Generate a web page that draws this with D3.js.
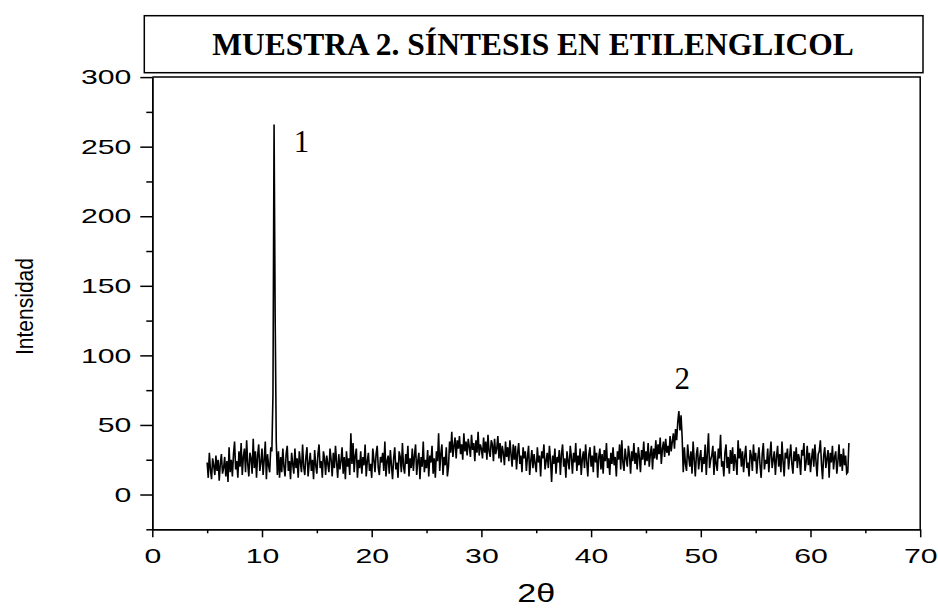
<!DOCTYPE html>
<html>
<head>
<meta charset="utf-8">
<script src="https://cdn.jsdelivr.net/npm/d3@7"></script>
<style>
  body { margin: 0; background: #fff; }
  svg { display: block; }
</style>
</head>
<body>
<div id="chart"></div>
<script>
// scan: 2theta from 5.0 to 63.5 in 0.1 steps, intensity
var scanStart = 5.0,
    scanStep = 0.1;

var intensity = [
  23,12,30,18,11,26,21,14,28,17,   // 5
  25,10,22,29,15,19,27,13,24,9,
  34,16,25,13,29,38,18,24,12,31,
  20,37,14,27,33,16,39,22,13,30,
  26,15,40,19,31,12,28,36,17,23,
  33,14,25,38,11,29,21,16,34,31,   // 10
  72,266,128,38,14,31,12,27,16,33,
  20,13,29,35,17,24,11,30,22,15,
  33,19,26,12,31,23,16,36,20,14,
  27,34,13,22,30,17,25,11,32,21,
  15,29,36,19,24,12,31,26,14,28,   // 15
  22,16,33,25,13,30,19,35,23,12,
  29,18,24,34,15,27,11,31,20,26,
  14,44,22,37,16,28,33,12,25,19,
  31,15,27,21,36,13,24,30,17,22,
  12,33,25,16,29,35,19,14,27,23,   // 20
  30,17,38,13,24,28,15,32,21,11,
  26,34,18,23,12,31,27,16,37,20,
  15,29,22,35,13,26,19,33,17,28,
  36,14,24,30,11,27,20,38,16,25,
  19,32,13,28,23,35,15,26,12,31,   // 25
  24,44,17,29,36,14,27,21,34,13,
  20,38,30,45,27,35,41,26,39,33,
  42,29,36,25,44,31,38,28,40,34,
  27,43,32,37,24,39,30,45,28,36,
  33,26,41,30,38,25,43,31,27,39,   // 30
  36,24,40,29,33,42,26,37,23,35,
  30,21,38,27,34,24,39,29,20,36,
  25,35,18,30,37,22,28,16,34,26,
  31,17,27,35,14,24,32,19,29,22,
  16,34,23,28,13,31,26,36,18,24,   // 35
  30,19,35,25,9,28,22,33,15,27,
  23,32,14,29,36,20,26,12,31,24,
  18,35,27,15,30,23,37,17,28,21,
  33,14,26,31,19,36,24,13,29,34,
  20,28,16,35,23,30,12,27,33,18,   // 40
  29,15,32,24,37,19,26,14,30,22,
  34,21,27,13,31,25,36,18,39,23,
  17,33,26,20,35,28,15,31,24,37,
  22,30,18,34,27,16,32,25,38,21,
  31,24,37,20,29,35,18,33,26,39,   // 45
  25,36,29,41,22,33,38,27,40,30,
  35,28,42,31,38,44,33,47,39,52,
  60,46,57,41,16,34,22,17,36,27,
  20,31,15,38,25,13,29,34,18,26,
  32,16,27,22,36,14,30,44,19,25,   // 50
  28,35,14,31,22,17,33,26,43,20,
  24,13,30,36,19,27,15,32,22,34,
  17,29,24,14,39,26,33,20,31,16,
  27,35,19,23,13,32,28,17,36,24,
  30,15,26,34,21,12,29,37,18,25,   // 55
  22,33,16,28,38,19,25,31,14,27,
  35,20,29,16,38,24,13,30,26,33,
  18,27,36,22,15,31,24,34,19,29,
  25,14,32,28,37,17,23,35,21,30,
  16,26,33,20,36,24,13,29,31,39,   // 60
  22,11,28,34,19,26,32,12,30,23,
  35,18,27,31,15,24,36,20,29,17,
  33,21,28,15,16,37                // 63.0 - 63.5
];

var xMajor = [0, 10, 20, 30, 40, 50, 60, 70],
    xMinor = [5, 15, 25, 35, 45, 55, 65],
    yMajor = [0, 50, 100, 150, 200, 250, 300],
    yMinor = [-25, 25, 75, 125, 175, 225, 275];

var peakNames = ["1", "2"],
    peakTheta = [13.6, 48.3],
    peakInt = [246, 76];

var title = "MUESTRA 2. SÍNTESIS EN ETILENGLICOL";

var width = 938, height = 608;
var plotLeft = 152.3, plotRight = 920.2, plotTop = 77.1, plotBottom = 529.3;
var digitW = 16.8; // tick digits in the original are drawn wide

var svg = d3.select("#chart")
  .append("svg")
    .attr("width", width)
    .attr("height", height);

var x = d3.scaleLinear().domain([0, 70]).range([plotLeft, plotRight]);
var y = d3.scaleLinear().domain([-25, 300]).range([plotBottom, plotTop]);

var data = intensity.map(function(d, i) {
  return { t: scanStart + i * scanStep, v: d };
});

// title box
svg.append("rect")
    .attr("x", 144.3).attr("y", 15.7)
    .attr("width", 923 - 144.3).attr("height", 72.7 - 15.7)
    .attr("fill", "none").attr("stroke", "#000").attr("stroke-width", 1.5);

svg.append("text")
    .attr("x", 533).attr("y", 55)
    .attr("text-anchor", "middle")
    .style("font-family", "'Liberation Serif', 'Times New Roman', serif")
    .style("font-weight", "bold")
    .style("font-size", "31.5px")
    .text(title);

// frame top + right
svg.append("path")
    .attr("d", "M" + plotLeft + "," + y(300) + "H" + x(70) + "V" + plotBottom)
    .attr("fill", "none").attr("stroke", "#000").attr("stroke-width", 1.5);

function styleAxis(g) {
  g.select(".domain").attr("stroke-width", 1.5);
  g.selectAll(".tick line").attr("stroke-width", 1.5);
  g.selectAll("text")
    .style("font-family", "'Liberation Sans', Arial, sans-serif")
    .style("font-size", "21px")
    .attr("fill", "#000")
    .attr("lengthAdjust", "spacingAndGlyphs")
    .attr("textLength", function() { return this.textContent.length * digitW; });
}

svg.append("g")
    .attr("transform", "translate(" + plotLeft + ",0)")
    .call(d3.axisLeft(y).tickValues(yMinor).tickSize(6).tickSizeOuter(0).tickFormat(""))
    .call(styleAxis);

svg.append("g")
    .attr("transform", "translate(" + plotLeft + ",0)")
    .call(d3.axisLeft(y).tickValues(yMajor).tickSize(12).tickSizeOuter(0).tickPadding(9))
    .call(styleAxis);

svg.append("g")
    .attr("transform", "translate(0," + plotBottom + ")")
    .call(d3.axisBottom(x).tickValues(xMinor).tickSize(4).tickSizeOuter(0).tickFormat(""))
    .call(styleAxis);

svg.append("g")
    .attr("transform", "translate(0," + plotBottom + ")")
    .call(d3.axisBottom(x).tickValues(xMajor).tickSize(8).tickSizeOuter(0).tickPadding(11))
    .call(styleAxis);

// pattern
var line = d3.line()
    .x(function(d) { return x(d.t); })
    .y(function(d) { return y(d.v); });

svg.append("path")
    .datum(data)
    .attr("d", line)
    .attr("fill", "none")
    .attr("stroke", "#000")
    .attr("stroke-width", 1.6)
    .attr("stroke-linejoin", "miter");

// peak numbers
svg.selectAll(".peak")
    .data(peakNames)
  .enter().append("text")
    .attr("class", "peak")
    .attr("x", function(d, i) { return x(peakTheta[i]); })
    .attr("y", function(d, i) { return y(peakInt[i]); })
    .attr("text-anchor", "middle")
    .style("font-family", "'Liberation Serif', 'Times New Roman', serif")
    .style("font-size", "31px")
    .text(function(d) { return d; });

// axis titles
svg.append("text")
    .attr("x", (plotLeft + plotRight) / 2).attr("y", 602)
    .attr("text-anchor", "middle")
    .attr("textLength", 38)
    .attr("lengthAdjust", "spacingAndGlyphs")
    .style("font-family", "'Liberation Sans', Arial, sans-serif")
    .style("font-size", "25.5px")
    .text("2θ");

svg.append("text")
    .attr("transform", "translate(33,306.5) rotate(-90)")
    .attr("text-anchor", "middle")
    .attr("textLength", 97)
    .attr("lengthAdjust", "spacingAndGlyphs")
    .style("font-family", "'Liberation Sans', Arial, sans-serif")
    .style("font-size", "23.5px")
    .text("Intensidad");
</script>
</body>
</html>
